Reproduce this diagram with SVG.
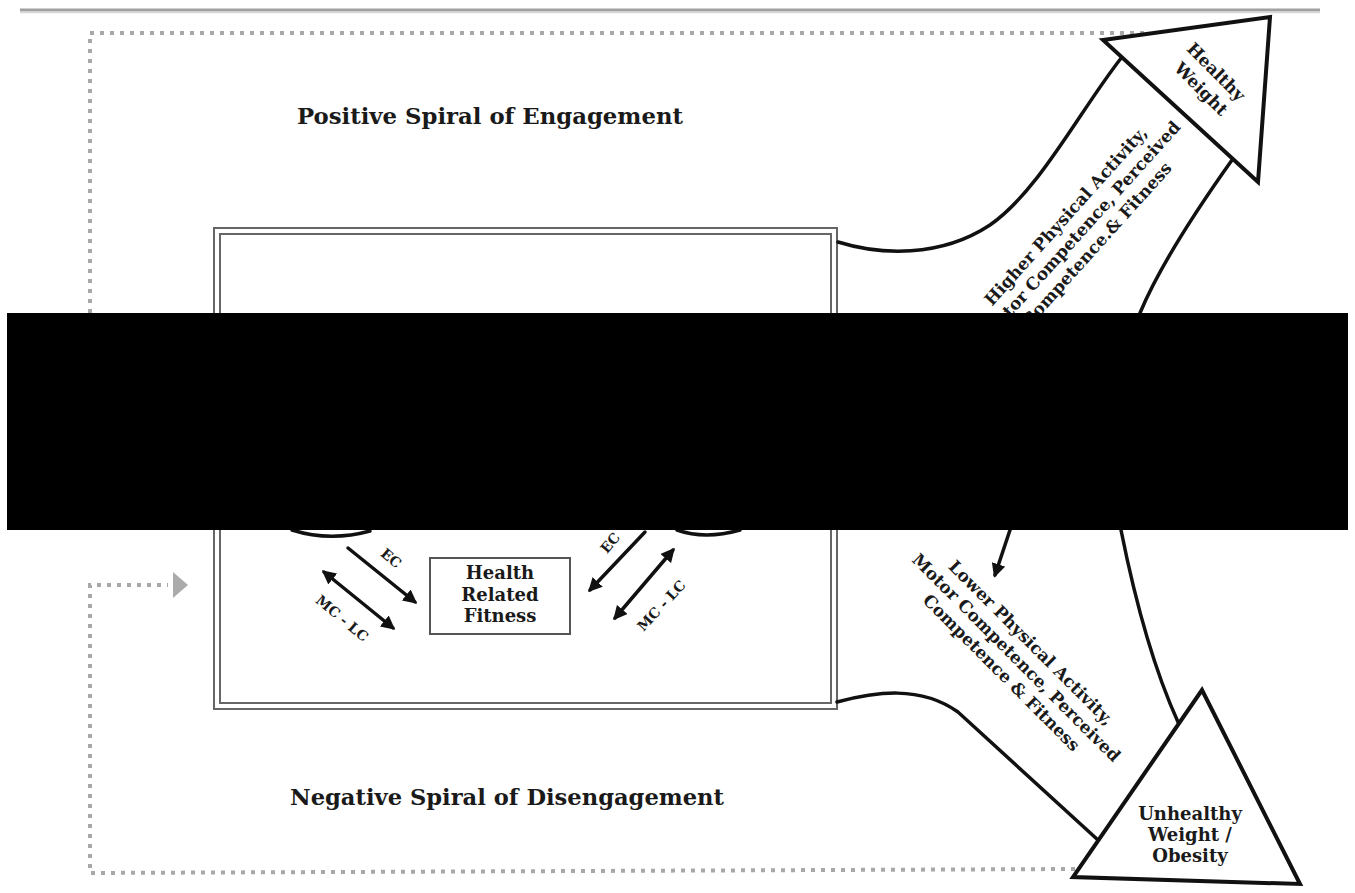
<svg xmlns="http://www.w3.org/2000/svg" width="1355" height="893" viewBox="0 0 1355 893">
  <style>
    .lbl { font-family: "DejaVu Serif", "Liberation Serif", serif; font-weight: bold; fill: #1a1a1a; }
    .title { font-size: 23px; }
    .mid { font-size: 18px; text-anchor: middle; }
    .band { font-size: 17px; text-anchor: middle; }
    .small { font-size: 14px; text-anchor: middle; }
    .edge { fill: none; stroke: #111; stroke-width: 3.5; stroke-linecap: round; }
    .dots { fill: none; stroke: #a8a8a8; stroke-width: 4; stroke-dasharray: 4 6; }
    .frame { fill: none; stroke: #666; stroke-width: 2; }
  </style>
  <defs>
    <marker id="ah" viewBox="0 0 10 10" refX="8" refY="5" markerWidth="4" markerHeight="4" orient="auto-start-reverse">
      <path d="M0,0 L10,5 L0,10 z" fill="#111"/>
    </marker>
  </defs>

  <rect width="1355" height="893" fill="#fff"/>

  <!-- header rule -->
  <line x1="20" y1="10" x2="1320" y2="10" stroke="#a0a0a0" stroke-width="3"/>
  <line x1="20" y1="12.5" x2="1320" y2="12.5" stroke="#d8d8d8" stroke-width="1.5"/>

  <!-- feedback loops (dotted) -->
  <g id="feedback">
    <path class="dots" d="M90,313 L90,33 L1150,33"/>
    <path class="dots" d="M1075,869 L90,873 L90,585 L168,585"/>
    <polygon points="173,572 188,585 173,598" fill="#ababab"/>
  </g>

  <!-- central frame -->
  <g id="frame">
    <rect class="frame" x="214" y="228" width="623" height="481"/>
    <rect class="frame" x="220" y="234" width="611" height="469"/>
  </g>

  <g id="titles">
    <text class="lbl title" x="297" y="124" textLength="386" lengthAdjust="spacingAndGlyphs">Positive Spiral of Engagement</text>
    <text class="lbl title" x="290" y="805" textLength="434" lengthAdjust="spacingAndGlyphs">Negative Spiral of Disengagement</text>
  </g>

  <!-- spiral bands -->
  <g id="connectors">
    <path class="edge" d="M838,242 C880,255 940,258 990,225 C1040,190 1080,110 1122,57"/>
    <path class="edge" d="M1232,160 C1200,205 1160,265 1140,313"/>
    <path class="edge" d="M837,702 C875,692 920,685 958,712 L1098,840"/>
    <path class="edge" d="M1121,530 C1135,600 1152,665 1178,722"/>
    <line class="edge" x1="1010" y1="530" x2="995" y2="575" marker-end="url(#ah)"/>
    <!-- ellipse bottoms -->
    <path class="edge" stroke-width="2.5" d="M292,530 Q330,542 370,531"/>
    <path class="edge" stroke-width="2.5" d="M677,530 Q705,540 740,530"/>
    <!-- influence arrows -->
    <line class="edge" x1="348" y1="548" x2="415" y2="602" marker-end="url(#ah)"/>
    <line class="edge" x1="324" y1="572" x2="393" y2="628" marker-start="url(#ah)" marker-end="url(#ah)"/>
    <line class="edge" x1="645" y1="532" x2="590" y2="590" marker-end="url(#ah)"/>
    <line class="edge" x1="673" y1="550" x2="615" y2="618" marker-start="url(#ah)" marker-end="url(#ah)"/>
  </g>

  <g id="arrow-labels">
    <text class="lbl small" transform="translate(388,562) rotate(40)">EC</text>
    <text class="lbl small" transform="translate(339,622) rotate(40)">MC - LC</text>
    <text class="lbl small" transform="translate(614,546) rotate(-50)">EC</text>
    <text class="lbl small" transform="translate(665,609) rotate(-47)">MC - LC</text>
  </g>

  <g id="fitness">
    <rect x="430" y="558" width="140" height="76" fill="#fff" stroke="#555" stroke-width="2"/>
    <text class="lbl mid" x="500" y="579">Health</text>
    <text class="lbl mid" x="500" y="601">Related</text>
    <text class="lbl mid" x="500" y="622">Fitness</text>
  </g>

  <g id="healthy-weight">
    <polygon points="1103,40 1270,17 1258,182" fill="#fff" stroke="#111" stroke-width="4" stroke-linejoin="miter"/>
    <text class="lbl band" transform="translate(1212,76) rotate(45)">Healthy</text>
    <text class="lbl band" transform="translate(1197,93) rotate(45)">Weight</text>
  </g>

  <g id="higher-label">
    <g transform="translate(1070,220) rotate(-48)">
      <text class="lbl band" x="0" y="0">Higher Physical Activity,</text>
      <text class="lbl band" x="0" y="21">Motor Competence, Perceived</text>
      <text class="lbl band" x="0" y="42">Competence.&amp; Fitness</text>
    </g>
  </g>

  <g id="lower-label">
    <g transform="translate(1027,647) rotate(45)">
      <text class="lbl band" x="0" y="0">Lower Physical Activity,</text>
      <text class="lbl band" x="0" y="21">Motor Competence, Perceived</text>
      <text class="lbl band" x="0" y="42">Competence &amp; Fitness</text>
    </g>
  </g>

  <g id="unhealthy-weight">
    <polygon points="1202,690 1073,877 1300,884" fill="#fff" stroke="#111" stroke-width="4"/>
    <text class="lbl mid" x="1190" y="820">Unhealthy</text>
    <text class="lbl mid" x="1190" y="841">Weight /</text>
    <text class="lbl mid" x="1190" y="862">Obesity</text>
  </g>

  <!-- redaction band -->
  <rect x="7" y="313" width="1341" height="217" fill="#000"/>
</svg>
